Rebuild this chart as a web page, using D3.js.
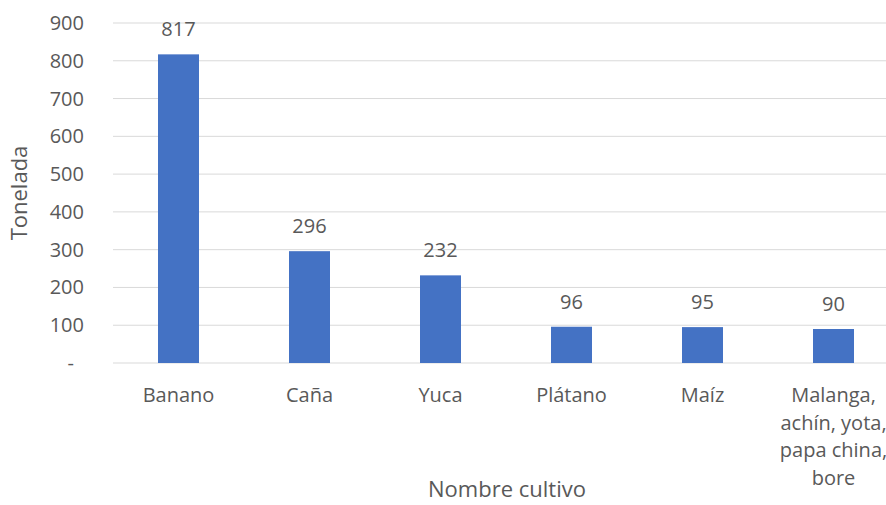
<!DOCTYPE html>
<html>
<head>
<meta charset="utf-8">
<script src="https://cdn.jsdelivr.net/npm/d3@7"></script>
<style>
  body { margin: 0; background: #fff; }
  text { font-family: "Open Sans", "Liberation Sans", sans-serif; fill: #595959; }
</style>
</head>
<body>
<svg id="chart"></svg>
<script>
// Chart data
const categories = ["Banano", "Caña", "Yuca", "Plátano", "Maíz", "Malanga, achín, yota, papa china, bore"];
const categoryLines = [["Banano"], ["Caña"], ["Yuca"], ["Plátano"], ["Maíz"], ["Malanga,", "achín, yota,", "papa china,", "bore"]];
const values = [817, 296, 232, 96, 95, 90];
const yTicks = [0, 100, 200, 300, 400, 500, 600, 700, 800, 900];

const width = 886;
const height = 505;
const margin = { top: 23, right: -13, bottom: 142, left: 113 };

const svg = d3.select("#chart")
    .attr("width", width)
    .attr("height", height);

// band step ~131px, bars ~41px wide
const x = d3.scaleBand()
    .domain(categories)
    .range([margin.left, width - margin.right])
    .paddingInner(0.687)
    .paddingOuter(0.3435);

const y = d3.scaleLinear()
    .domain([0, 900])
    .range([height - margin.bottom, margin.top]);

// Gridlines
svg.selectAll(".grid")
    .data(yTicks)
    .enter()
    .append("line")
    .attr("x1", margin.left)
    .attr("x2", width - margin.right)
    .attr("y1", d => y(d))
    .attr("y2", d => y(d))
    .style("stroke", "#d9d9d9")
    .style("stroke-width", 1);

// Y tick labels
svg.selectAll(".ytick")
    .data(yTicks)
    .enter()
    .append("text")
    .attr("x", d => d === 0 ? 74 : 84)
    .attr("y", d => y(d))
    .attr("dy", "0.35em")
    .attr("text-anchor", "end")
    .style("font-size", "20px")
    .text(d => d === 0 ? "-" : d);

// Bars
svg.selectAll(".bar")
    .data(values)
    .enter()
    .append("rect")
    .attr("x", (d, i) => x(categories[i]))
    .attr("y", d => y(d))
    .attr("width", x.bandwidth())
    .attr("height", d => y(0) - y(d))
    .style("fill", "#4472c4");

// Value labels
svg.selectAll(".value")
    .data(values)
    .enter()
    .append("text")
    .attr("x", (d, i) => x(categories[i]) + x.bandwidth() / 2)
    .attr("y", d => y(d) - 18)
    .attr("text-anchor", "middle")
    .style("font-size", "20px")
    .text(d => d);

// Category labels
categoryLines.forEach((lines, i) => {
    const t = svg.append("text")
        .attr("text-anchor", "middle")
        .style("font-size", "20px");
    lines.forEach((line, j) => {
        t.append("tspan")
            .attr("x", x(categories[i]) + x.bandwidth() / 2)
            .attr("y", 402 + j * 27.5)
            .text(line);
    });
});

// Axis titles
svg.append("text")
    .attr("x", 507)
    .attr("y", 497)
    .attr("text-anchor", "middle")
    .style("font-size", "22px")
    .text("Nombre cultivo");

svg.append("text")
    .attr("transform", "translate(27,193) rotate(-90)")
    .attr("text-anchor", "middle")
    .style("font-size", "22px")
    .text("Tonelada");
</script>
</body>
</html>
